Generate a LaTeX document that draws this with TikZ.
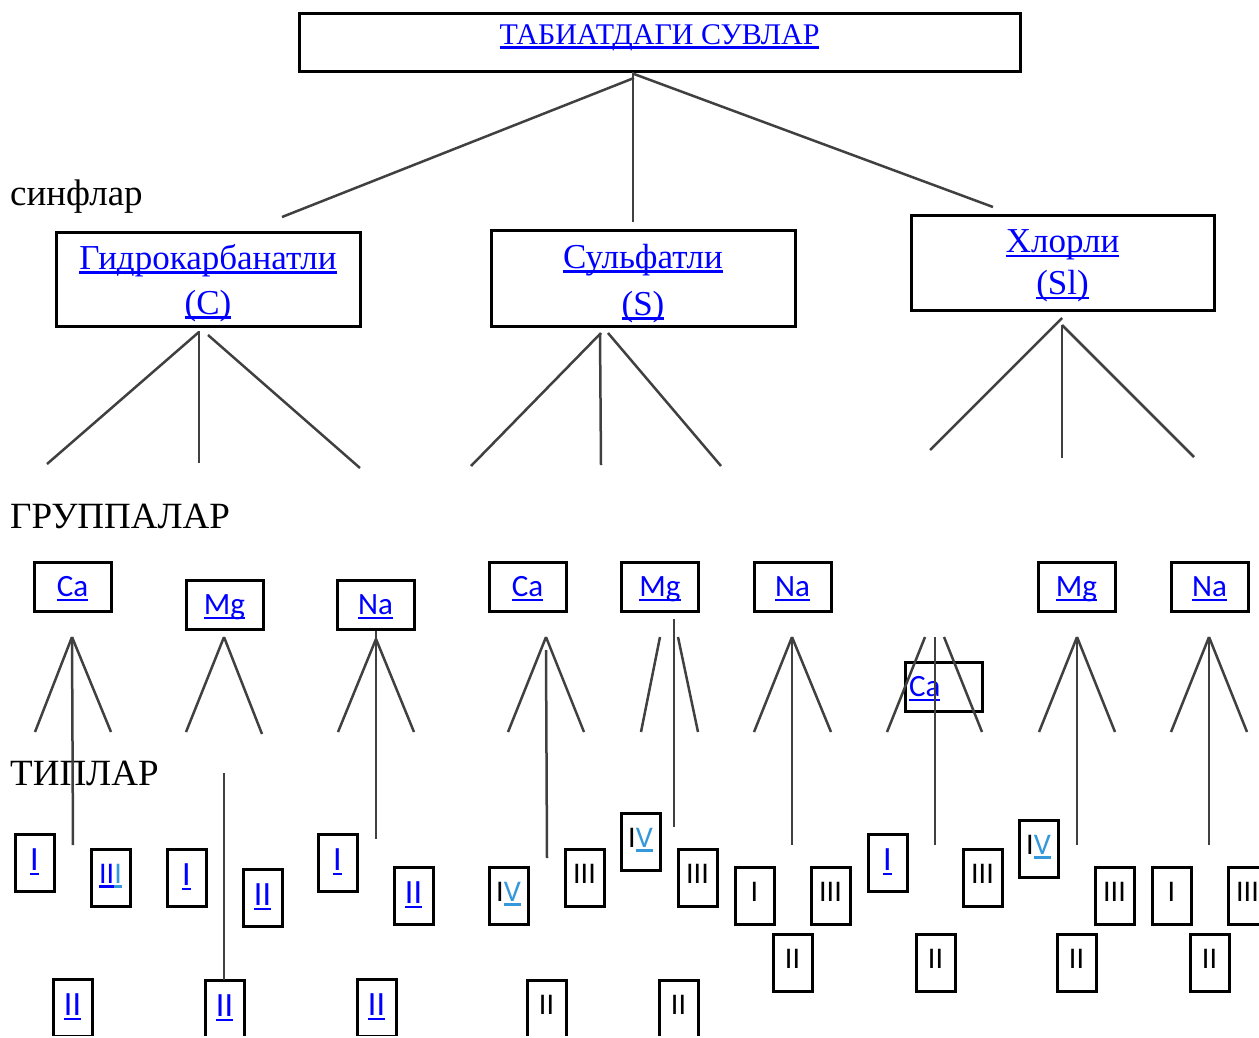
\documentclass[tikz,border=0pt]{standalone}
\usepackage{fontspec}
\setmainfont{Liberation Serif}
\newfontfamily\calfont{Carlito}
\definecolor{lnk}{RGB}{0,0,255}
\definecolor{lblue}{RGB}{52,152,219}
\definecolor{lncol}{RGB}{64,64,64}
\newsavebox\ulbox
\newcommand\uln[1]{\sbox\ulbox{#1}\rlap{\rule[-4.5pt]{\wd\ulbox}{2.4pt}}\usebox\ulbox}
\newcommand\ttlfont{\fontsize{30pt}{34pt}\selectfont}
\newcommand\clsfont{\fontsize{35pt}{45pt}\selectfont}
\newcommand\lblfont{\fontsize{37pt}{42pt}\selectfont}
\newcommand\grpfont{\calfont\fontsize{31pt}{34pt}\selectfont}
\newcommand\numfont{\calfont\fontsize{30pt}{34pt}\selectfont}
\newcommand\bignumfont{\calfont\fontsize{34pt}{38pt}\selectfont}
\tikzset{
  box/.style={draw=black, line width=3pt, inner sep=0pt},
  clsbox/.style={box, align=center, text=lnk, font=\clsfont},
  grp/.style={box, minimum width=77pt, minimum height=49pt, font=\grpfont, text=lnk, text height=20pt, text depth=0pt},
  tnum/.style={box, minimum width=39pt, minimum height=57pt, font=\numfont, text=black, text height=11pt, text depth=0pt},
  tblue/.style={box, minimum width=39pt, minimum height=57pt, font=\bignumfont, text=lnk, text height=16pt, text depth=0pt},
  lbl/.style={inner sep=0pt, anchor=base west, font=\lblfont, text=black},
  conn/.style={draw=lncol, line width=2.5pt}
}
\begin{document}
\begin{tikzpicture}[x=1pt,y=-1pt]
\useasboundingbox (0,0) rectangle (1259,1037);
\clip (0,0) rectangle (1259,1035.4);
% title
\node[box, minimum width=721pt, text height=31pt, text depth=27pt, font=\ttlfont, text=lnk] (title) at (659.5,42) {\uln{ТАБИАТДАГИ СУВЛАР}};
% classes
\node[clsbox, minimum width=304pt, minimum height=94pt] (clsC) at (208,279) {\rule{0pt}{33pt}\uln{Гидрокарбанатли}\\\uln{(C)}};
\node[clsbox, minimum width=304pt, minimum height=96pt] (clsS) at (643,278) {\rule{0pt}{35pt}\uln{Сульфатли}\\[2pt]\uln{(S)}};
\node[clsbox, minimum width=303pt, minimum height=95pt] (clsCl) at (1062.5,262.5) {\rule{0pt}{30pt}\uln{Хлорли}\\[-3pt]\uln{(Sl)}};
% labels
\node[lbl] (sinf) at (10,205) {синфлар};
\node[lbl] (grup) at (10,528) {ГРУППАЛАР};
\node[lbl] (tip) at (10,785) {ТИПЛАР};
% groups
\node[grp] (ca1) at (72.5,586.5) {\uln{Ca}};
\node[grp] (mg1) at (224.5,604.5) {\uln{Mg}};
\node[grp] (na1) at (375.5,604.5) {\uln{Na}};
\node[grp] (ca2) at (527.5,586.5) {\uln{Ca}};
\node[grp] (mg2) at (660,586.5) {\uln{Mg}};
\node[grp] (na2) at (792.5,586.5) {\uln{Na}};
\node[grp, text width=70pt, align=left, inner xsep=3.5pt] (ca3) at (944,686.5) {\uln{Ca}};
\node[grp] (mg3) at (1076.5,586.5) {\uln{Mg}};
\node[grp] (na3) at (1209.5,586.5) {\uln{Na}};
% types
\node[tblue] (t1a) at (34.5,862.5) {\uln{I}};
\node[tnum, text=lnk] (t1b) at (110.5,877.5) {\uln{II}\textcolor{lblue}{\uln{I}}};
\node[tblue] (t1c) at (72.5,1007.5) {\uln{II}};
\node[tblue] (t2a) at (186.5,877.5) {\uln{I}};
\node[tblue] (t2b) at (262.5,897.5) {\uln{II}};
\node[tblue] (t2c) at (224.5,1008.5) {\uln{II}};
\node[tblue] (t3a) at (337.5,862.5) {\uln{I}};
\node[tblue] (t3b) at (413.5,895.5) {\uln{II}};
\node[tblue] (t3c) at (376.5,1007.5) {\uln{II}};
\node[tnum] (t4a) at (508.5,895.5) {I\textcolor{lblue}{\uln{V}}};
\node[tnum] (t4b) at (584.5,877.5) {III};
\node[tnum] (t4c) at (546.5,1008.5) {II};
\node[tnum] (t5a) at (640.5,841.5) {I\textcolor{lblue}{\uln{V}}};
\node[tnum] (t5b) at (697.5,877.5) {III};
\node[tnum] (t5c) at (678.5,1008.5) {II};
\node[tnum] (t6a) at (754.5,895.5) {I};
\node[tnum] (t6b) at (830.5,895.5) {III};
\node[tnum] (t6c) at (792.5,962.5) {II};
\node[tblue] (t7a) at (887.5,862.5) {\uln{I}};
\node[tnum] (t7b) at (982.5,877.5) {III};
\node[tnum] (t7c) at (935.5,962.5) {II};
\node[tnum] (t8a) at (1038.5,848.5) {I\textcolor{lblue}{\uln{V}}};
\node[tnum] (t8b) at (1114.5,895.5) {III};
\node[tnum] (t8c) at (1076.5,962.5) {II};
\node[tnum] (t9a) at (1171.5,895.5) {I};
\node[tnum] (t9b) at (1247.5,895.5) {III};
\node[tnum] (t9c) at (1209.5,962.5) {II};
% connectors
\foreach \n/\ax/\ay/\bx/\by in {
  a1/634/78/282/217, a2/633/72/633/222, a3/634/74/993/207,
  b1/199/332/47/464, b2/199/331/199/463, b3/208/335/360/468,
  c1/601/333/471/466, c2/600/333/601/465, c3/608/333/721/466,
  d1/1062/318/930/450, d2/1062/325/1062/458, d3/1062/325/1194/457,
  e1/72/637/35/732, e2/72/637/111/732, e3/72/637/73/845,
  f1/224/637/186/732, f2/224/637/262/734, f3/224/773/224/980,
  g1/376/639/338/732, g2/376/639/414/732, g3/376/631/376/839,
  h1/546/637/508/732, h2/546/637/584/732, h3/546/650/547/858,
  i1/660/637/641/732, i2/678/637/698/732, i3/674/619/674/827,
  j1/792/637/754/732, j2/792/637/831/732, j3/792/637/792/845,
  k1/925/637/887/732, k2/935/637/935/845, k3/944/637/982/732,
  l1/1077/637/1039/732, l2/1077/637/1115/732, l3/1077/637/1077/845,
  m1/1209/637/1171/732, m2/1209/637/1247/732, m3/1209/637/1209/845}
{
  \coordinate (s\n) at (\ax,\ay);
  \coordinate (e\n) at (\bx,\by);
  \draw[conn] (s\n) -- (e\n);
}
\end{tikzpicture}
\end{document}
